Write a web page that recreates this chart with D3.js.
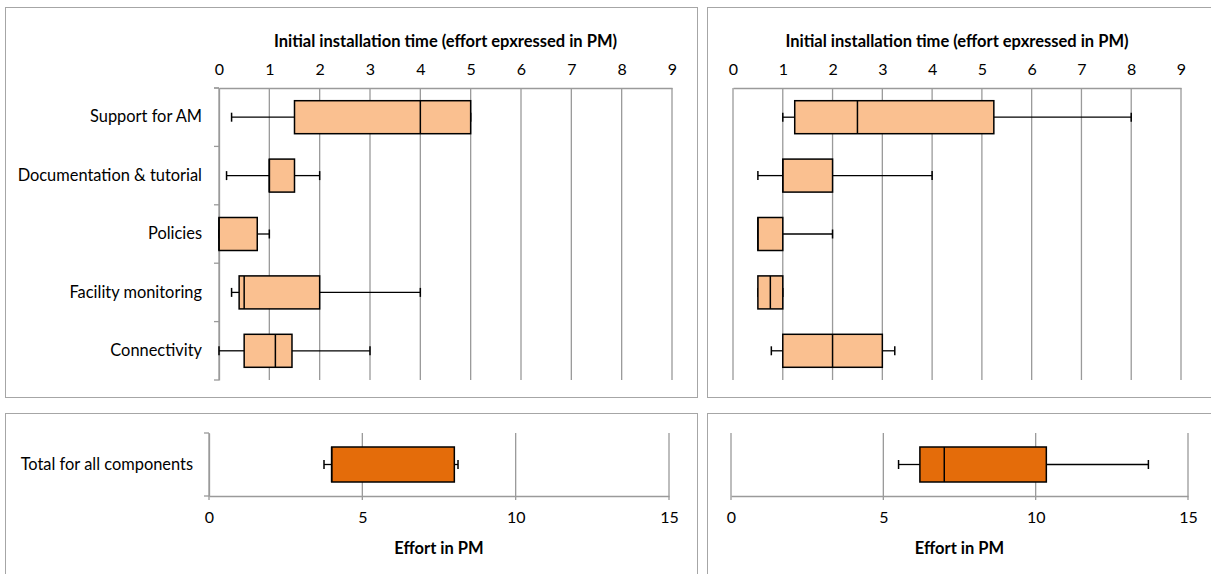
<!DOCTYPE html>
<html><head><meta charset="utf-8">
<script src="https://cdn.jsdelivr.net/npm/d3@7"></script>
<style>body{margin:0;background:#fff}svg{display:block;font-family:Lato,"Open Sans",sans-serif}</style>
</head><body><svg id="c" width="1211" height="574"></svg>
<script>
const categories = ["Support for AM","Documentation & tutorial","Policies","Facility monitoring","Connectivity"];
const leftMin = [0.25,0.15,0,0.25,0];
const leftQ1  = [1.5,1,0,0.4,0.5];
const leftMed = [4,1,0,0.5,1.12];
const leftQ3  = [5,1.5,0.76,2,1.45];
const leftMax = [5,2,1,4,3];
const rightMin = [1,0.5,0.5,0.5,0.77];
const rightQ1  = [1.24,1,0.5,0.5,1];
const rightMed = [2.5,1,0.5,0.75,2];
const rightQ3  = [5.24,2,1,1,3];
const rightMax = [8,4,2,1,3.25];
const totalCategory = ["Total for all components"];
const totalLeft  = {min:3.75, q1:4, med:4, q3:8, max:8.12};
const totalRight = {min:5.5, q1:6.2, med:7, q3:10.35, max:13.7};
const topTicks = [0,1,2,3,4,5,6,7,8,9];
const bottomTicks = [0,5,10,15];
const topTitle = "Initial installation time (effort epxressed in PM)";
const bottomTitle = "Effort in PM";

const svg = d3.select("#c");
const GRID = "#9a9a9a", BORDER = "#a6a6a6";
const LIGHT = "#FAC090", DARK = "#E46C0A";
const LABEL_FS = 16.4, TICK_FS = 16, TITLE_FS = 16.5;

[[5,7,692,390],[707,7,510,390],[5,413,692,170],[707,413,510,170]].forEach(p=>{
  svg.append("rect").attr("x",p[0]+0.5).attr("y",p[1]+0.5).attr("width",p[2]).attr("height",p[3])
    .attr("fill","none").attr("stroke",BORDER).attr("stroke-width",1);
});

function buildRows(mins,q1s,meds,q3s,maxs){
  return categories.map((c,i)=>({cat:c,min:mins[i],q1:q1s[i],med:meds[i],q3:q3s[i],max:maxs[i]}));
}

function drawBoxes(g, rows, x, y, boxH, fill, capH){
  const rg = g.selectAll("g.row").data(rows).enter().append("g");
  rg.each(function(d){
    const s = d3.select(this);
    const cy = y(d.cat) + y.bandwidth()/2;
    s.append("line").attr("x1",x(d.min)).attr("x2",x(d.q1)).attr("y1",cy).attr("y2",cy).attr("stroke","#000").attr("stroke-width",1.3);
    s.append("line").attr("x1",x(d.q3)).attr("x2",x(d.max)).attr("y1",cy).attr("y2",cy).attr("stroke","#000").attr("stroke-width",1.3);
    [d.min,d.max].forEach(v=>s.append("line").attr("x1",x(v)).attr("x2",x(v)).attr("y1",cy-capH/2).attr("y2",cy+capH/2).attr("stroke","#000").attr("stroke-width",1.5));
    s.append("rect").attr("x",x(d.q1)).attr("y",cy-boxH/2).attr("width",Math.max(0,x(d.q3)-x(d.q1))).attr("height",boxH)
      .attr("fill",fill).attr("stroke","#000").attr("stroke-width",1.5);
    s.append("line").attr("x1",x(d.med)).attr("x2",x(d.med)).attr("y1",cy-boxH/2).attr("y2",cy+boxH/2).attr("stroke","#000").attr("stroke-width",1.5);
  });
}

function topPanel(x0,x1,mins,q1s,meds,q3s,maxs,withLabels){
  const x = d3.scaleLinear().domain([0,9]).range([x0,x1]);
  const y = d3.scaleBand().domain(categories).range([88,380]);
  const g = svg.append("g");
  g.selectAll("line.grid").data(topTicks).enter().append("line")
    .attr("x1",d=>x(d)).attr("x2",d=>x(d)).attr("y1",88).attr("y2",380).attr("stroke",GRID).attr("stroke-width",1.3);
  const ax = g.append("g").attr("transform","translate(0,88)").call(d3.axisTop(x).tickValues(topTicks).tickSize(0).tickPadding(13));
  ax.select(".domain").attr("stroke",GRID).attr("stroke-width",1.3);
  ax.selectAll("text").attr("font-size",TICK_FS).attr("fill","#000").attr("font-family","Lato");
  if(withLabels){
    g.append("line").attr("x1",x0-5).attr("x2",x0).attr("y1",88).attr("y2",88).attr("stroke",GRID).attr("stroke-width",1.3);
    const ay = g.append("g").attr("transform",`translate(${x0},0)`).call(d3.axisLeft(y).tickSize(0).tickPadding(17));
    ay.select(".domain").attr("stroke",GRID).attr("stroke-width",1.3);
    ay.selectAll("text").attr("font-size",LABEL_FS).attr("fill","#000").attr("font-family","Lato");
    const bounds = categories.map(c=>y(c)).concat([380]);
    g.selectAll("line.sep").data(bounds).enter().append("line")
      .attr("x1",x0-5).attr("x2",x0).attr("y1",d=>d).attr("y2",d=>d).attr("stroke",GRID).attr("stroke-width",1.3);
  }
  g.append("text").attr("x",(x0+x1)/2).attr("y",47).attr("text-anchor","middle")
    .attr("font-size",TITLE_FS).attr("font-weight","bold").text(topTitle);
  drawBoxes(g, buildRows(mins,q1s,meds,q3s,maxs), x, y, 33, LIGHT, 9);
}

function bottomPanel(x0,x1,stats,withLabels){
  const x = d3.scaleLinear().domain([0,15]).range([x0,x1]);
  const y = d3.scaleBand().domain(totalCategory).range([433,496]);
  const g = svg.append("g");
  g.selectAll("line.grid").data(bottomTicks).enter().append("line")
    .attr("x1",d=>x(d)).attr("x2",d=>x(d)).attr("y1",433).attr("y2",500).attr("stroke",GRID).attr("stroke-width",1.3);
  const ax = g.append("g").attr("transform","translate(0,496)").call(d3.axisBottom(x).tickValues(bottomTicks).tickSize(0).tickPadding(16));
  ax.select(".domain").attr("stroke",GRID).attr("stroke-width",1.3);
  ax.selectAll("text").attr("font-size",TICK_FS).attr("fill","#000").attr("font-family","Lato");
  if(withLabels){
    const ay = g.append("g").attr("transform",`translate(${x0},0)`).call(d3.axisLeft(y).tickSize(0).tickPadding(16));
    ay.select(".domain").attr("stroke",GRID).attr("stroke-width",1.3);
    ay.selectAll("text").attr("font-size",LABEL_FS).attr("fill","#000").attr("font-family","Lato");
    [433,496].forEach(v=>g.append("line").attr("x1",x0-5).attr("x2",x0).attr("y1",v).attr("y2",v).attr("stroke",GRID).attr("stroke-width",1.3));
  }
  g.append("text").attr("x",(x0+x1)/2).attr("y",554).attr("text-anchor","middle")
    .attr("font-size",TITLE_FS).attr("font-weight","bold").text(bottomTitle);
  drawBoxes(g, [Object.assign({cat:totalCategory[0]},stats)], x, y, 35, DARK, 9);
}

topPanel(219,672,leftMin,leftQ1,leftMed,leftQ3,leftMax,true);
topPanel(733,1181,rightMin,rightQ1,rightMed,rightQ3,rightMax,false);
bottomPanel(209,669,totalLeft,true);
bottomPanel(731,1188,totalRight,false);
</script></body></html>
